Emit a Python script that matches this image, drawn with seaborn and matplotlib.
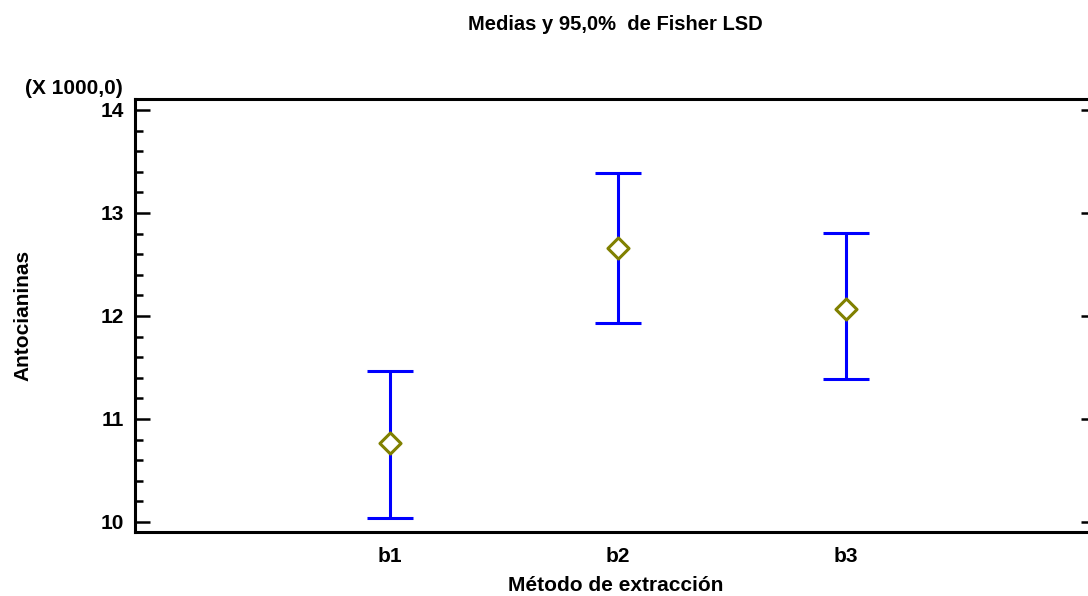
import matplotlib
matplotlib.use("Agg")
import matplotlib.pyplot as plt
from matplotlib.ticker import MultipleLocator
import numpy as np
import pandas as pd
import seaborn as sns

# Means and 95% Fisher LSD intervals (in thousands)
metodos = ["b1", "b2", "b3"]
medias = [10.763, 12.657, 12.068]
limite_inf = [10.040, 11.935, 11.385]
limite_sup = [11.465, 13.392, 12.805]

sns.set_style("white")
plt.rcParams["font.family"] = ["Liberation Sans", "DejaVu Sans"]
plt.rcParams["font.weight"] = "bold"
plt.rcParams["text.color"] = "black"
plt.rcParams["axes.labelcolor"] = "black"
plt.rcParams["xtick.color"] = "black"
plt.rcParams["ytick.color"] = "black"

df = pd.DataFrame({"metodo": metodos, "media": medias,
                   "inf": limite_inf, "sup": limite_sup})
df["pos"] = np.arange(len(df))

fig = plt.figure(figsize=(10.88, 5.96), dpi=100)
ax = fig.add_axes([0.1241, 0.1074, 1.0074 - 0.1241, 0.8339 - 0.1074])

# interval bars
ax.errorbar(df["pos"], df["media"],
            yerr=[df["media"] - df["inf"], df["sup"] - df["media"]],
            fmt="none", ecolor="#0000ff", elinewidth=2.2,
            capsize=16.5, capthick=2.2, zorder=2)

# group means
sns.scatterplot(data=df, x="pos", y="media", marker="D", s=115,
                facecolor="white", edgecolor="#808000", linewidth=2.2,
                zorder=3, ax=ax, legend=False)

ax.set_xlim(-1.12, 3.10)
ax.set_ylim(9.903, 14.106)
ax.set_xticks(df["pos"])
ax.set_xticklabels(metodos)
ax.yaxis.set_major_locator(MultipleLocator(1))
ax.yaxis.set_minor_locator(MultipleLocator(0.2))

for side in ["left", "right", "top", "bottom"]:
    ax.spines[side].set_visible(True)
    ax.spines[side].set_color("black")
    ax.spines[side].set_linewidth(2.2)

ax.tick_params(axis="y", which="major", direction="in", length=11,
               width=1.8, left=True, right=True, labelsize=15, pad=8,
               color="black", labelcolor="black")
ax.tick_params(axis="y", which="minor", direction="in", length=5.5,
               width=1.8, left=True, right=False, color="black")
ax.tick_params(axis="x", which="both", length=0, labelsize=15, pad=11,
               labelcolor="black")
for lab in ax.get_xticklabels() + ax.get_yticklabels():
    lab.set_fontweight("bold")

ax.set_xlabel("Método de extracción", fontsize=15, fontweight="bold",
              labelpad=7, color="black")
ax.set_ylabel("Antocianinas", fontsize=15, fontweight="bold",
              labelpad=49, color="black")
ax.set_title("Medias y 95,0%  de Fisher LSD", fontsize=14.5,
             fontweight="bold", pad=50, color="black")
fig.text(25 / 1088, 1 - 88 / 596, "(X 1000,0)", fontsize=15,
         fontweight="bold", ha="left", va="center", color="black")

fig.savefig("out.png", dpi=100)
